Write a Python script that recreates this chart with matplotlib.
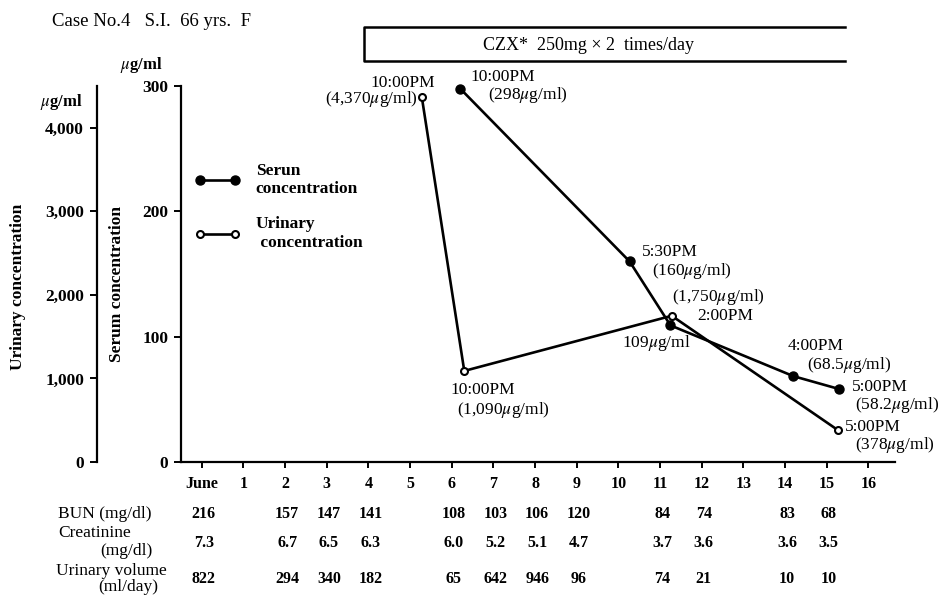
import numpy as np
import matplotlib
matplotlib.use("Agg")
import matplotlib.pyplot as plt
import matplotlib.transforms as mtransforms
from matplotlib.lines import Line2D

plt.rcParams['font.family'] = ['Liberation Serif', 'DejaVu Serif']
plt.rcParams['mathtext.fontset'] = 'stix'

# ---- data ------------------------------------------------------------
DAYS = list(range(17))
DAY_LABELS = ['June'] + [str(d) for d in range(1, 17)]

# serum concentration (ug/ml), position on the day axis
SERUM_X = [6.2, 10.27, 11.25, 14.2, 15.3]
SERUM_Y = [298, 160, 109, 68.5, 58.2]
SERUM_TIME = ['10:00PM', '5:30PM', '2:00PM', '4:00PM', '5:00PM']

# urinary concentration (ug/ml)
URINE_X = [5.28, 6.3, 11.28, 15.28]
URINE_Y = [4370, 1090, 1750, 378]
URINE_TIME = ['10:00PM', '10:00PM', '2:00PM', '5:00PM']

# lab table under the axis
TABLE_DAYS = [0, 2, 3, 4, 6, 7, 8, 9, 11, 12, 14, 15]
BUN = ['216', '157', '147', '141', '108', '103', '106', '120', '84', '74', '83', '68']
CREATININE = ['7.3', '6.7', '6.5', '6.3', '6.0', '5.2', '5.1', '4.7', '3.7', '3.6', '3.6', '3.5']
URINE_VOL = ['822', '294', '340', '182', '65', '642', '946', '96', '74', '21', '10', '10']

SERUM_TICKS = [0, 100, 200, 300]
URINE_TICKS = [0, 1000, 2000, 3000, 4000]
URINE_RATIO = 15.0   # urinary scale / serum scale

W, H = 950, 596
fig = plt.figure(figsize=(W / 100, H / 100), dpi=100)


def fx(px):
    return px / W


def fy(py):
    return 1 - py / H


ax = fig.add_axes([fx(181), fy(462), fx(895 - 181), (462 - 86) / H])
ax.set_xlim(-0.5, 16.64)
ax.set_ylim(0, 300)

for s in ['top', 'right']:
    ax.spines[s].set_visible(False)
for s in ['left', 'bottom']:
    ax.spines[s].set_linewidth(1.6)

ax.set_xticks(DAYS)
ax.set_xticklabels(DAY_LABELS, fontsize=11.5, fontweight='bold')
ax.set_yticks(SERUM_TICKS)
ax.set_yticklabels([str(v) for v in SERUM_TICKS], fontsize=12.5, fontweight='bold')
ax.tick_params(axis='x', direction='out', length=4, width=1.4, pad=6)
ax.tick_params(axis='y', direction='out', length=5, width=1.4, pad=4)

# urinary axis on a second spine further left
ax2 = ax.twinx()
ax2.set_ylim(0, 300 * URINE_RATIO)
for s in ['top', 'right', 'bottom']:
    ax2.spines[s].set_visible(False)
ax2.spines['left'].set_visible(True)
ax2.spines['left'].set_position(('axes', (96.5 - 181) / (895 - 181)))
ax2.spines['left'].set_linewidth(1.6)
ax2.yaxis.set_ticks_position('left')
ax2.yaxis.set_label_position('left')
ax2.set_yticks(URINE_TICKS)
ax2.set_yticklabels(['{:,}'.format(v) for v in URINE_TICKS], fontsize=12.5, fontweight='bold')
ax2.tick_params(axis='y', direction='out', length=5, width=1.4, pad=4)

# ---- curves --------------------------------------------------------
serum_line, = ax.plot(SERUM_X, SERUM_Y, color='black', lw=1.9, marker='o',
                      markersize=6.5, markerfacecolor='black', clip_on=False, zorder=3)
urine_line, = ax2.plot(URINE_X, URINE_Y, color='black', lw=1.9, marker='o',
                       markersize=5, markerfacecolor='white', markeredgewidth=1.5,
                       clip_on=False, zorder=3)

# ---- point labels (offsets in pixels) ------------------------------
ann_kw = dict(textcoords='offset pixels', fontsize=12.5, va='center', annotation_clip=False)

ax.annotate(SERUM_TIME[0], (SERUM_X[0], SERUM_Y[0]), xytext=(10, 12), ha='left', **ann_kw)
ax.annotate('({:g}$\\mu$g/ml)'.format(SERUM_Y[0]), (SERUM_X[0], SERUM_Y[0]),
            xytext=(28, -6), ha='left', **ann_kw)
ax.annotate(SERUM_TIME[1], (SERUM_X[1], SERUM_Y[1]), xytext=(12, 9), ha='left', **ann_kw)
ax.annotate('({:g}$\\mu$g/ml)'.format(SERUM_Y[1]), (SERUM_X[1], SERUM_Y[1]),
            xytext=(22, -10), ha='left', **ann_kw)
ax.annotate('{:g}$\\mu$g/ml'.format(SERUM_Y[2]), (SERUM_X[2], SERUM_Y[2]),
            xytext=(-48, -18), ha='left', **ann_kw)
ax.annotate(SERUM_TIME[3], (SERUM_X[3], SERUM_Y[3]), xytext=(-6, 30), ha='left', **ann_kw)
ax.annotate('({:g}$\\mu$g/ml)'.format(SERUM_Y[3]), (SERUM_X[3], SERUM_Y[3]),
            xytext=(14, 11), ha='left', **ann_kw)
ax.annotate(SERUM_TIME[4], (SERUM_X[4], SERUM_Y[4]), xytext=(13, 2), ha='left', **ann_kw)
ax.annotate('({:g}$\\mu$g/ml)'.format(SERUM_Y[4]), (SERUM_X[4], SERUM_Y[4]),
            xytext=(16, -16), ha='left', **ann_kw)

ax2.annotate(URINE_TIME[0], (URINE_X[0], URINE_Y[0]), xytext=(13, 14), ha='right', **ann_kw)
ax2.annotate('({:,}$\\mu$g/ml)'.format(URINE_Y[0]), (URINE_X[0], URINE_Y[0]),
             xytext=(-4, -2), ha='right', **ann_kw)
ax2.annotate(URINE_TIME[1], (URINE_X[1], URINE_Y[1]), xytext=(-14, -19), ha='left', **ann_kw)
ax2.annotate('({:,}$\\mu$g/ml)'.format(URINE_Y[1]), (URINE_X[1], URINE_Y[1]),
             xytext=(-7, -39), ha='left', **ann_kw)
ax2.annotate('({:,}$\\mu$g/ml)'.format(URINE_Y[2]), (URINE_X[2], URINE_Y[2]),
             xytext=(0, 19), ha='left', **ann_kw)
ax2.annotate(URINE_TIME[2], (URINE_X[2], URINE_Y[2]), xytext=(26, 0), ha='left', **ann_kw)
ax2.annotate(URINE_TIME[3], (URINE_X[3], URINE_Y[3]), xytext=(7, 3), ha='left', **ann_kw)
ax2.annotate('({:g}$\\mu$g/ml)'.format(URINE_Y[3]), (URINE_X[3], URINE_Y[3]),
             xytext=(17, -15), ha='left', **ann_kw)

# ---- legend --------------------------------------------------------
ax.legend([serum_line, urine_line], ['Serun\nconcentration', 'Urinary\n concentration'],
          loc='upper left', bbox_to_anchor=(fx(195), fy(163)), bbox_transform=fig.transFigure,
          frameon=False, prop={'size': 12.5, 'weight': 'bold'}, numpoints=2,
          handlelength=2.6, handletextpad=0.9, labelspacing=1.1, borderpad=0, borderaxespad=0)

# ---- axis titles and units -----------------------------------------
fig.text(fx(18), fy(287), 'Urinary concentration', rotation=90, ha='center', va='center',
         fontsize=12.5, fontweight='bold')
fig.text(fx(117), fy(284), 'Serum concentration', rotation=90, ha='center', va='center',
         fontsize=12.5, fontweight='bold')
fig.text(fx(40), fy(102), '$\\mu$g/ml', ha='left', va='center', fontsize=12, fontweight='bold')
fig.text(fx(120), fy(65), '$\\mu$g/ml', ha='left', va='center', fontsize=12, fontweight='bold')

fig.text(fx(52), fy(22), 'Case No.4   S.I.  66 yrs.  F', ha='left', va='center', fontsize=13.5)

# dosing bar (open on the right)
fig.add_artist(Line2D([fx(845), fx(364), fx(364), fx(845)], [fy(27), fy(27), fy(61), fy(61)],
                      transform=fig.transFigure, color='black', lw=1.8))
fig.text(fx(483), fy(45), 'CZX*  250mg \u00d7 2  times/day', ha='left', va='center', fontsize=13)

# ---- lab values table ----------------------------------------------
tr = mtransforms.blended_transform_factory(ax.transData, fig.transFigure)
row_kw = dict(ha='left', va='center', fontsize=12.5)
fig.text(fx(58), fy(514), 'BUN (mg/dl)', **row_kw)
fig.text(fx(58), fy(533), 'Creatinine', **row_kw)
fig.text(fx(100), fy(551), '(mg/dl)', **row_kw)
fig.text(fx(56), fy(571), 'Urinary volume', **row_kw)
fig.text(fx(98), fy(587), '(ml/day)', **row_kw)

for d, b, c, u in zip(TABLE_DAYS, BUN, CREATININE, URINE_VOL):
    ax.text(d + 0.05, fy(514), b, transform=tr, ha='center', va='center',
            fontsize=11.5, fontweight='bold')
    ax.text(d + 0.05, fy(543), c, transform=tr, ha='center', va='center',
            fontsize=11.5, fontweight='bold')
    ax.text(d + 0.05, fy(579), u, transform=tr, ha='center', va='center',
            fontsize=11.5, fontweight='bold')

fig.savefig('out.png', dpi=100)
